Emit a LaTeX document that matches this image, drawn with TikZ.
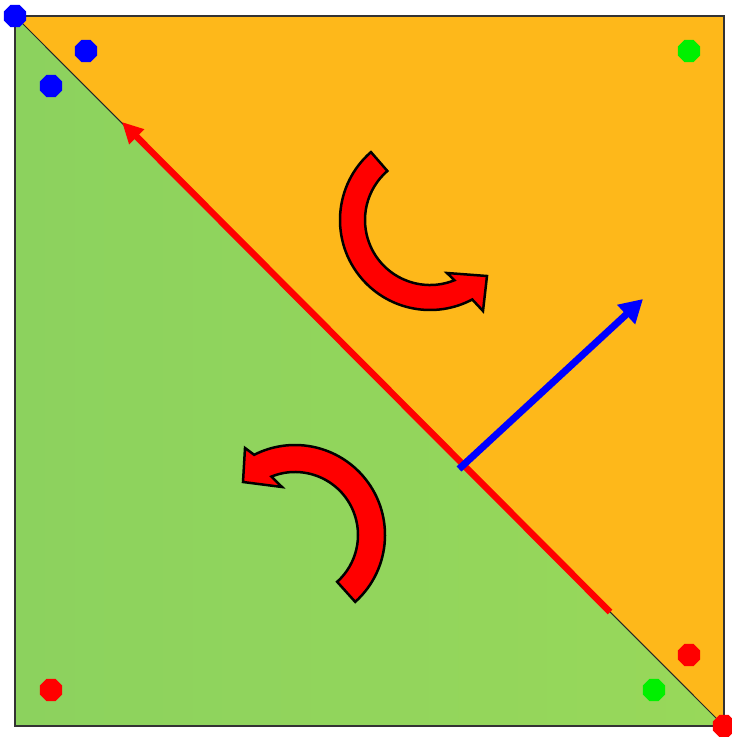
\documentclass[tikz,border=0pt]{standalone}
\usepackage{xcolor}
\usepackage{tikz}
\usetikzlibrary{shapes.geometric,arrows.meta,calc}
\definecolor{triorange}{RGB}{254,184,26}
\definecolor{trigreenL}{RGB}{140,210,94}
\definecolor{trigreenR}{RGB}{152,216,90}
\definecolor{dotgreen}{RGB}{0,240,0}
\tikzset{
  vtxdot/.style   = {regular polygon, regular polygon sides=8,
                     fill=#1, draw=none, inner sep=0pt,
                     minimum size=0.48cm},
  vtxdot/.default = blue,
  framebox/.style = {draw=black!80, line width=0.04cm},
  diagline/.style = {draw=black!85, line width=0.02cm},
  edgearrow/.style= {red, line width=0.13cm,
                     -{Triangle[length=0.42cm,width=0.4cm]}},
  nrmarrow/.style = {blue, line width=0.14cm,
                     -{Triangle[length=0.46cm,width=0.5cm]}},
  bendarrow/.style= {fill=red, draw=black, line width=0.05cm,
                     line join=miter},
}

\begin{document}
\begin{tikzpicture}[x=0.02cm, y=-0.02cm]
  \useasboundingbox (0,0) rectangle (731,737);

  %% ---- Corners ----
  \coordinate (tl) at (15,16);
  \coordinate (tr) at (724,16);
  \coordinate (bl) at (15,726);
  \coordinate (br) at (724,726);

  %% ---- Two triangles ----
  \fill[triorange] (tl) -- (tr) -- (br) -- cycle;
  \shade[left color=trigreenL, right color=trigreenR]
        (tl) -- (bl) -- (br) -- cycle;
  \draw[framebox] (tl) rectangle (br);
  \draw[diagline] (tl) -- (br);

  %% ---- Edge and normal ----
  \coordinate (edgeS) at (610,612);
  \coordinate (edgeE) at (122,122);
  \coordinate (nrmS)  at (459,469);
  \coordinate (nrmE)  at (643,299);
  \draw[edgearrow] (edgeS) -- (edgeE);
  \draw[nrmarrow,line cap=butt] (nrmS) -- (nrmE);

  %% ---- Rotation arrows ----
  \coordinate (ctrA) at (430,220);
  \coordinate (ctrB) at (295,535);
  \draw[bendarrow] (ctrA) ++(229:90)
        arc[start angle=229, end angle=62, radius=90]
        -- (483,311) -- (487,276) -- (447,273)
        -- ($(ctrA)+(68:65)$)
        arc[start angle=68, end angle=229, radius=65] -- cycle;
  \draw[bendarrow] (ctrB) ++(48:90)
        arc[start angle=48, end angle=-117, radius=90]
        -- (245,448) -- (243,482) -- (282,487)
        -- ($(ctrB)+(-112:63)$)
        arc[start angle=-112, end angle=48, radius=63] -- cycle;

  %% ---- Vertex dots ----
  \node[vtxdot]           (b0) at (tl)       {};
  \node[vtxdot]           (b1) at (86,51)    {};
  \node[vtxdot]           (b2) at (51,86)    {};
  \node[vtxdot=dotgreen]  (g1) at (689,51)   {};
  \node[vtxdot=dotgreen]  (g2) at (654,690)  {};
  \node[vtxdot=red]       (r1) at (689,655)  {};
  \node[vtxdot=red]       (r2) at (51,690)   {};
  \node[vtxdot=red]       (r0) at (br)       {};

\end{tikzpicture}
\end{document}
